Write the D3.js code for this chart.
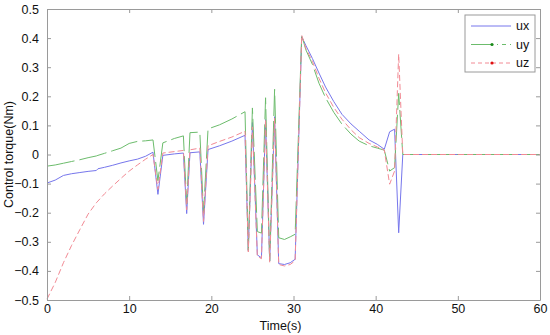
<!DOCTYPE html>
<html>
<head>
<meta charset="utf-8">
<script src="https://cdn.jsdelivr.net/npm/d3@7"></script>
<style>
  body { margin: 0; background: #fff; }
  svg text { font-family: "Liberation Sans", Arial, sans-serif; fill: #111; }
</style>
</head>
<body>
<svg id="chart" width="550" height="335"></svg>
<script>
// control torque data
var time = [0, 1, 2, 3, 4, 5, 6, 6.2, 7, 8, 9, 10, 11, 12, 12.9, 13.5, 14.1, 15.5, 16.6, 17.0,
    17.4, 18.6, 19.05, 19.6, 21, 22.5, 24.1, 24.5, 25.0, 25.6, 26.1, 26.6, 27.1, 27.7, 28.2,
    28.9, 29.6, 30.2, 31.0, 31.5, 32.3, 33.1, 33.9, 34.9, 35.9, 37.0, 38.0, 39.2, 40.2, 41.05,
    41.7, 42.3, 42.8, 43.3, 60];

var ux = [-0.098, -0.088, -0.072, -0.066, -0.062, -0.058, -0.055, -0.049, -0.044, -0.037, -0.029,
    -0.022, -0.016, -0.006, 0.008, -0.137, -0.003, 0.002, 0.005, -0.203, 0.006, 0.009, -0.240,
    0.017, 0.030, 0.046, 0.066, -0.330, 0.110, -0.345, -0.355, 0.120, -0.366, 0.130, -0.375,
    -0.378, -0.372, -0.360, 0.405, 0.375, 0.330, 0.280, 0.232, 0.182, 0.138, 0.105, 0.080, 0.050,
    0.035, 0.018, 0.078, 0.087, -0.269, 0, 0];

var uy = [-0.040, -0.036, -0.030, -0.024, -0.018, -0.011, -0.005, -0.003, 0.004, 0.013, 0.022,
    0.038, 0.045, 0.047, 0.050, -0.090, 0.040, 0.055, 0.064, -0.170, 0.075, 0.077, -0.200, 0.088,
    0.102, 0.122, 0.147, -0.330, 0.160, -0.265, -0.270, 0.195, -0.366, 0.224, -0.286, -0.292,
    -0.283, -0.274, 0.410, 0.360, 0.310, 0.245, 0.195, 0.145, 0.104, 0.070, 0.046, 0.030, 0.022,
    0.015, -0.057, -0.045, 0.210, 0, 0];

var uz = [-0.497, -0.440, -0.372, -0.312, -0.258, -0.205, -0.166, -0.160, -0.135, -0.108, -0.082,
    -0.057, -0.036, -0.016, 0.000, -0.120, 0.005, 0.010, 0.014, -0.190, 0.016, 0.022, -0.230, 0.030,
    0.045, 0.060, 0.080, -0.335, 0.095, -0.350, -0.358, 0.120, -0.370, 0.125, -0.378, -0.383,
    -0.378, -0.365, 0.410, 0.365, 0.320, 0.262, 0.212, 0.162, 0.121, 0.085, 0.058, 0.038, 0.026,
    0.015, -0.102, -0.057, 0.345, 0, 0];

var xTicks = [0, 10, 20, 30, 40, 50, 60];
var yTicks = [0.5, 0.4, 0.3, 0.2, 0.1, 0, -0.1, -0.2, -0.3, -0.4, -0.5];

var series = [
    { name: 'ux', values: ux, color: '#7676ec', dash: null, legendDash: null },
    { name: 'uy', values: uy, color: '#6cbc6c', dash: '28,5', legendDash: '22,4,1,4,4,4' },
    { name: 'uz', values: uz, color: '#f28a94', dash: '6,3', legendDash: '4,3' }
];

var margin = { top: 9, right: 10, bottom: 35, left: 47 };
var svg = d3.select('#chart');
var width = +svg.attr('width') - margin.left - margin.right;
var height = +svg.attr('height') - margin.top - margin.bottom;

var x = d3.scaleLinear().domain([0, 60]).range([0, width]);
var y = d3.scaleLinear().domain([-0.5, 0.5]).range([height, 0]);

var g = svg.append('g').attr('transform', 'translate(' + margin.left + ',' + margin.top + ')');

// lines
var line = d3.line()
    .x(function(d) { return x(d[0]); })
    .y(function(d) { return y(d[1]); });

g.selectAll('path.series').data(series).enter().append('path')
    .attr('class', 'series')
    .attr('fill', 'none')
    .attr('stroke', function(d) { return d.color; })
    .attr('stroke-width', 1)
    .attr('stroke-dasharray', function(d) { return d.dash; })
    .attr('d', function(d) {
        return line(time.map(function(t, i) { return [t, d.values[i]]; }));
    });

// axes, matlab style: box with inward ticks on all four sides
var fmt = function(v) { return v === 0 ? '0' : d3.format('.1f')(v); };
var axisColor = '#9a9a9a';

var xb = g.append('g').attr('transform', 'translate(0,' + height + ')')
    .call(d3.axisBottom(x).tickValues(xTicks).tickSizeInner(-4).tickSizeOuter(0).tickPadding(4));
var xt = g.append('g')
    .call(d3.axisTop(x).tickValues(xTicks).tickSizeInner(-4).tickSizeOuter(0).tickFormat(''));
var yl = g.append('g')
    .call(d3.axisLeft(y).tickValues(yTicks).tickSizeInner(-4).tickSizeOuter(0).tickPadding(8).tickFormat(fmt));
var yr = g.append('g').attr('transform', 'translate(' + width + ',0)')
    .call(d3.axisRight(y).tickValues(yTicks).tickSizeInner(-4).tickSizeOuter(0).tickFormat(''));

[xb, xt, yl, yr].forEach(function(a) {
    a.selectAll('path.domain').attr('stroke', axisColor);
    a.selectAll('line').attr('stroke', axisColor);
    a.selectAll('text').attr('font-size', 12.5).attr('fill', '#111')
        .style('font-family', '"Liberation Sans", Arial, sans-serif');
});

// axis titles
svg.append('text')
    .attr('x', margin.left + width / 2 - 13)
    .attr('y', 330)
    .attr('text-anchor', 'middle')
    .attr('font-size', 12.5)
    .text('Time(s)');

svg.append('text')
    .attr('transform', 'translate(13,' + (margin.top + height / 2) + ') rotate(-90)')
    .attr('text-anchor', 'middle')
    .attr('font-size', 12.5)
    .text('Control torque(Nm)');

// legend
var lg = svg.append('g').attr('transform', 'translate(465,15)');
lg.append('rect')
    .attr('width', 70).attr('height', 57)
    .attr('fill', '#fff').attr('stroke', axisColor);

var item = lg.selectAll('g.item').data(series).enter().append('g')
    .attr('class', 'item')
    .attr('transform', function(d, i) { return 'translate(0,' + (11 + i * 18.5) + ')'; });

item.append('line')
    .attr('x1', 6).attr('x2', 46)
    .attr('stroke', function(d) { return d.color; })
    .attr('stroke-dasharray', function(d) { return d.legendDash; });

item.filter(function(d) { return d.name !== 'ux'; }).append('circle')
    .attr('cx', 27).attr('r', 1.6)
    .attr('fill', function(d) { return d.name === 'uy' ? '#1a8a1a' : '#e01010'; });

item.append('text')
    .attr('x', 51).attr('dy', '0.35em')
    .attr('font-size', 12.5)
    .text(function(d) { return d.name; });
</script>
</body>
</html>
